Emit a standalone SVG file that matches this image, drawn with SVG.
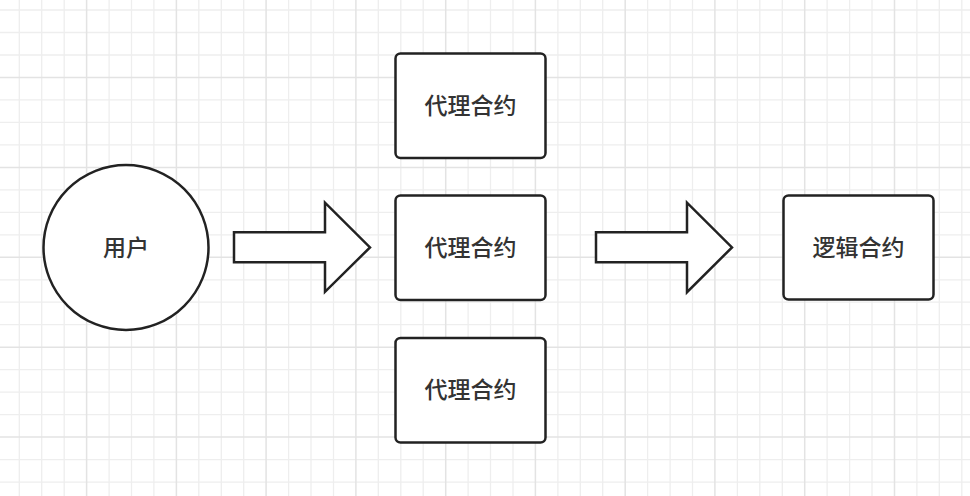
<svg xmlns="http://www.w3.org/2000/svg" width="970" height="496" viewBox="0 0 970 496">
<style>
.minor{stroke:#eeeeee;stroke-width:1.3;fill:none}
.major{stroke:#e3e3e3;stroke-width:1.5;fill:none}
.node{fill:#ffffff;stroke:#222222;stroke-width:2.5}
.arrow{fill:#ffffff;stroke:#222222;stroke-width:2.5;stroke-linejoin:miter}
.label{font-family:"Noto Sans CJK SC","Noto Sans",sans-serif;font-size:23px;font-weight:500;fill:#333333;text-anchor:middle;dominant-baseline:central}
</style>
<rect x="0" y="0" width="970" height="496" fill="#ffffff"/>
<g id="grid">
<path class="minor" d="M19.3 0V496M41.7 0V496M64.2 0V496M109.1 0V496M131.5 0V496M153.9 0V496M198.8 0V496M221.3 0V496M243.7 0V496M288.6 0V496M311 0V496M333.5 0V496M378.3 0V496M400.8 0V496M423.2 0V496M468.1 0V496M490.5 0V496M513 0V496M557.9 0V496M580.3 0V496M602.7 0V496M647.6 0V496M670.1 0V496M692.5 0V496M737.4 0V496M759.8 0V496M782.3 0V496M827.1 0V496M849.6 0V496M872 0V496M916.9 0V496M939.3 0V496M961.8 0V496M0 10H970M0 32.5H970M0 55H970M0 99.9H970M0 122.4H970M0 144.9H970M0 189.8H970M0 212.3H970M0 234.8H970M0 279.8H970M0 302.2H970M0 324.7H970M0 369.7H970M0 392.2H970M0 414.6H970M0 459.6H970M0 482.1H970"/>
<path class="major" d="M86.6 0V496M176.4 0V496M266.1 0V496M355.9 0V496M445.7 0V496M535.4 0V496M625.2 0V496M714.9 0V496M804.7 0V496M894.5 0V496M0 77.4H970M0 167.4H970M0 257.3H970M0 347.2H970M0 437.1H970"/>
</g>
<g id="connectors">
<path class="arrow" d="M234 232.3H325V202.7L370 247.4L325 291.8V262.3H234Z"/>
<path class="arrow" d="M596 232.3H687V202.7L732 247.4L687 292.2V262.3H596Z"/>
</g>
<g id="user">
<circle class="node" cx="126" cy="247.5" r="82.5"/>
<text class="label" x="126" y="245.5">用户</text>
</g>
<g id="proxy1">
<rect class="node" x="395.5" y="53.5" width="150" height="104.5" rx="5"/>
<text class="label" x="470.5" y="103.5">代理合约</text>
</g>
<g id="proxy2">
<rect class="node" x="395.5" y="195.5" width="150" height="104.5" rx="5"/>
<text class="label" x="470.5" y="245.5">代理合约</text>
</g>
<g id="proxy3">
<rect class="node" x="395.5" y="338" width="150" height="104.5" rx="5"/>
<text class="label" x="470.5" y="388">代理合约</text>
</g>
<g id="logic">
<rect class="node" x="783.5" y="195.5" width="150" height="104" rx="5"/>
<text class="label" x="858.5" y="245.5">逻辑合约</text>
</g>
</svg>
